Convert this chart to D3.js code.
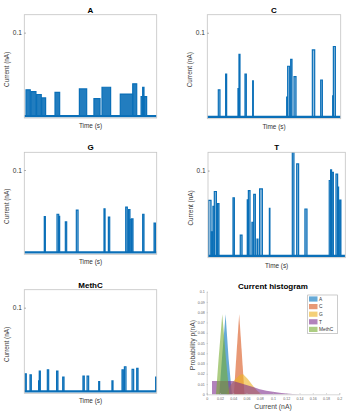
<!DOCTYPE html>
<html>
<head>
<meta charset="utf-8">
<script src="https://cdn.jsdelivr.net/npm/d3@7"></script>
<style>
  body { margin: 0; background: #fff; }
  svg { display: block; font-family: "Liberation Sans", Arial, sans-serif; }
</style>
</head>
<body>
<div id="chart"></div>
<script>
// event traces: [start time, end time, current level (nA)], time in arbitrary 0-100 units
const baseLevel = 0.0022
const eventsA = [[1.3,4.5,0.033],[5.0,8.8,0.031],[9.3,12.8,0.0275],[13.1,16.1,0.0235],[23.2,26.7,0.030],
  [41.6,47.1,0.034],[52.6,57.2,0.0227],[58.7,65.2,0.036],[72.5,81.9,0.028],[81.9,84.9,0.040],
  [88.2,89.4,0.025],[89.4,90.4,0.036],[90.4,92.4,0.025]]
const eventsC = [[8.25,9.5,0.0336],[13.75,14.5,0.052],[23,23.5,0.035],[23.75,24.5,0.075],[28.25,29.25,0.052],
  [34,34.5,0.044],[59.5,60,0.025],[60.25,61.75,0.061],[62.5,63.5,0.069],[65,66.5,0.049],
  [78.75,80.5,0.080],[85,86.25,0.045],[94,94.5,0.0266],[94.5,96,0.084]]
const eventsG = [[15.1,15.9,0.0447],[24.7,26.0,0.0475],[26.0,26.7,0.045],[31.0,32.0,0.0384],[39.3,40.6,0.0525],
  [60.2,61.0,0.054],[63.5,64.5,0.044],[76.6,77.8,0.056],[78.8,79.8,0.053],[79.8,80.9,0.0416],
  [81.1,82.1,0.042],[89.4,90.4,0.0475],[98,99,0.037]]
const eventsT = [[0.2,2.2,0.0658],[2.4,3.4,0.0297],[3.6,4.6,0.059],[4.6,6.1,0.076],[7.0,8.0,0.062],
  [18.2,19.2,0.0688],[23.5,24.8,0.026],[28.6,29.4,0.0665],[29.4,30.6,0.077],[32.0,33.0,0.0407],
  [33.3,34.5,0.0726],[35.7,36.4,0.0213],[37.6,39.6,0.079],[44.7,45.1,0.0567],[61.4,62.6,0.125],
  [64.6,66.0,0.1076],[70.6,72.1,0.0559],[88.3,89.3,0.0886],[89.3,90.0,0.1008],[90.3,91.3,0.098],
  [93.2,94.4,0.096],[94.4,95.1,0.081],[95.9,96.8,0.066]]
const eventsMethC = [[0.5,1.5,0.0227],[4.3,5.3,0.0216],[10.8,11.3,0.0145],[11.3,12.1,0.026],[17.4,18.4,0.0275],
  [24.4,25.4,0.026],[29.0,30.0,0.019],[44.3,45.3,0.020],[47.4,48.6,0.020],[56.2,56.9,0.0137],
  [66.2,67.0,0.0145],[73.8,74.8,0.0275],[75.6,76.8,0.031],[81.4,82.6,0.028],[84.9,85.9,0.029],
  [99.2,100,0.0188]]
const traceYTicks = [0.1]

// histogram: [current (nA), probability]
const histNames = ['A', 'C', 'G', 'T', 'MethC']
const histA = [[0.019,0],[0.023,0.035],[0.0285,0.078],[0.033,0.035],[0.038,0]]
const histC = [[0.041,0],[0.045,0.04],[0.049,0.078],[0.053,0.04],[0.057,0]]
const histG = [[0.030,0],[0.035,0.008],[0.042,0.014],[0.05,0.019],[0.055,0.0195],[0.062,0.015],
  [0.07,0.008],[0.077,0.003],[0.083,0]]
const histT = [[0.008,0],[0.008,0.013],[0.02,0.013],[0.04,0.013],[0.05,0.011],[0.06,0.009],[0.07,0.007],
  [0.08,0.005],[0.09,0.0035],[0.1,0.0025],[0.11,0.0015],[0.12,0.0008],[0.13,0.0003],[0.14,0]]
const histMethC = [[0.014,0],[0.018,0.035],[0.0235,0.078],[0.029,0.035],[0.034,0]]
const histXTicks = [0,0.02,0.04,0.06,0.08,0.1,0.12,0.14,0.16,0.18,0.2]
const histYTicks = [0,0.01,0.02,0.03,0.04,0.05,0.06,0.07,0.08,0.09,0.1]

const width = 349
const height = 413
const blue = '#0a6fb8'
const histColors = ['#0072BD', '#D95319', '#EDB120', '#7E2F8E', '#77AC30']

const svg = d3.select('#chart').append('svg')
  .attr('width', width)
  .attr('height', height)

// panel boxes in pixels
const panels = [
  { title: 'A', events: eventsA, x0: 24.3, x1: 156.7, y0: 14.7, y1: 118, fillOp: 0.9 },
  { title: 'C', events: eventsC, x0: 207.3, x1: 340.7, y0: 14.7, y1: 118.7, fillOp: 0.45 },
  { title: 'G', events: eventsG, x0: 24.3, x1: 156.7, y0: 152.3, y1: 254.3, fillOp: 0.45 },
  { title: 'T', events: eventsT, x0: 208, x1: 345.3, y0: 152.3, y1: 257.7, fillOp: 0.45 },
  { title: 'MethC', events: eventsMethC, x0: 24.3, x1: 156.7, y0: 289.7, y1: 393.3, fillOp: 0.45 }
]

panels.forEach((p, idx) => {
  const x = d3.scaleLinear().domain([0, 100]).range([p.x0, p.x1])
  const y = d3.scaleLinear().domain([0, 0.121]).range([p.y1, p.y0])
  const g = svg.append('g')

  const clipId = 'clip' + idx
  g.append('clipPath').attr('id', clipId)
    .append('rect')
    .attr('x', p.x0).attr('y', p.y0)
    .attr('width', p.x1 - p.x0).attr('height', p.y1 - p.y0)

  const plot = g.append('g').attr('clip-path', `url(#${clipId})`)

  // baseline
  plot.append('line')
    .attr('x1', x(0)).attr('x2', x(100))
    .attr('y1', y(baseLevel)).attr('y2', y(baseLevel))
    .attr('stroke', blue)
    .attr('stroke-width', 2.2)

  // events
  plot.selectAll('.ev')
    .data(p.events)
    .enter()
    .append('path')
    .attr('class', 'ev')
    .attr('d', d => `M${x(d[0])},${y(baseLevel)}L${x(d[0])},${y(d[2])}L${x(d[1])},${y(d[2])}L${x(d[1])},${y(baseLevel)}`)
    .attr('fill', blue)
    .attr('fill-opacity', p.fillOp)
    .attr('stroke', blue)
    .attr('stroke-width', 1.2)

  // box
  g.append('rect')
    .attr('x', p.x0).attr('y', p.y0)
    .attr('width', p.x1 - p.x0).attr('height', p.y1 - p.y0)
    .attr('fill', 'none')
    .attr('stroke', '#c4c4c4')
    .attr('stroke-width', 0.8)

  const yAxis = d3.axisLeft(y).tickValues(traceYTicks).tickSize(-1.5).tickPadding(2.3)
    .tickFormat(d3.format('.1f'))
  const ya = g.append('g').attr('transform', `translate(${p.x0},0)`).call(yAxis)
  ya.select('.domain').remove()
  ya.selectAll('line').attr('stroke', '#999')
  ya.selectAll('text').attr('font-size', 6.6).attr('fill', '#333').attr('font-family', null)

  const cx = (p.x0 + p.x1) / 2
  g.append('text')
    .attr('x', cx).attr('y', p.y0 - 2)
    .attr('text-anchor', 'middle')
    .attr('font-size', 8).attr('font-weight', 'bold')
    .text(p.title)

  g.append('text')
    .attr('x', cx).attr('y', p.y1 + 10)
    .attr('text-anchor', 'middle')
    .attr('font-size', 6.4).attr('fill', '#333')
    .text('Time (s)')

  g.append('text')
    .attr('transform', `translate(${p.x0 - 15},${(p.y0 + p.y1) / 2 + 3}) rotate(-90)`)
    .attr('text-anchor', 'middle')
    .attr('font-size', 6.4).attr('fill', '#333')
    .text('Current (nA)')
})

// histogram
const hx = d3.scaleLinear().domain([0, 0.2]).range([206.7, 339.3])
const hy = d3.scaleLinear().domain([0, 0.1]).range([394.3, 291.7])
const hg = svg.append('g')
const area = d3.area().x(d => hx(d[0])).y0(hy(0)).y1(d => hy(d[1]))

const histSeries = [histA, histC, histG, histT, histMethC]
hg.selectAll('.harea')
  .data(histSeries)
  .enter()
  .append('path')
  .attr('class', 'harea')
  .attr('d', area)
  .attr('fill', (d, i) => histColors[i])
  .attr('fill-opacity', 0.6)

const hxAxis = d3.axisBottom(hx).tickValues(histXTicks).tickSize(-1.2).tickPadding(3)
  .tickFormat(d => d3.format('~g')(+d.toFixed(2)))
const hyAxis = d3.axisLeft(hy).tickValues(histYTicks).tickSize(-1.2).tickPadding(2)
  .tickFormat(d => d3.format('~g')(+d.toFixed(2)))

const xa = hg.append('g').attr('transform', `translate(0,${hy(0)})`).call(hxAxis)
const ya = hg.append('g').attr('transform', `translate(${hx(0)},0)`).call(hyAxis)
;[xa, ya].forEach(a => {
  a.select('.domain').attr('stroke', '#bbb').attr('stroke-width', 0.6)
  a.selectAll('line').attr('stroke', '#bbb').attr('stroke-width', 0.6)
  a.selectAll('text').attr('font-size', 3.6).attr('fill', '#666').attr('font-family', null)
})

hg.append('text')
  .attr('x', 273).attr('y', 288.5)
  .attr('text-anchor', 'middle')
  .attr('font-size', 8).attr('font-weight', 'bold')
  .text('Current histogram')

hg.append('text')
  .attr('x', hx(0.1)).attr('y', 409)
  .attr('text-anchor', 'middle')
  .attr('font-size', 6.8).attr('fill', '#444')
  .text('Current (nA)')

hg.append('text')
  .attr('transform', `translate(195,${(hy(0) + hy(0.1)) / 2 + 2}) rotate(-90)`)
  .attr('text-anchor', 'middle')
  .attr('font-size', 6.8).attr('fill', '#444')
  .text('Probability p(nA)')

// legend
const lg = hg.append('g')
lg.append('rect')
  .attr('x', 307.7).attr('y', 295)
  .attr('width', 29.6).attr('height', 38.7)
  .attr('fill', '#fff')
  .attr('stroke', '#aaa')
  .attr('stroke-width', 0.6)

const items = lg.selectAll('.li')
  .data(histNames)
  .enter()
  .append('g')
  .attr('transform', (d, i) => `translate(309, ${299 + i * 7.6})`)

items.append('rect')
  .attr('x', 0).attr('y', -2.6)
  .attr('width', 8.5).attr('height', 5.2)
  .attr('fill', (d, i) => histColors[i])
  .attr('fill-opacity', 0.6)

items.append('text')
  .attr('x', 10).attr('y', 1.7)
  .attr('font-size', 4.8).attr('fill', '#333')
  .text(d => d)
</script>
</body>
</html>
